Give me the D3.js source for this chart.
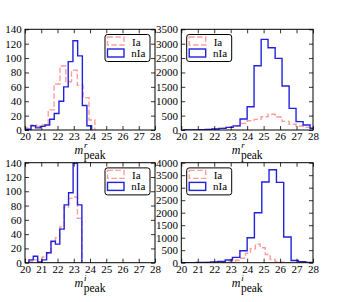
<!DOCTYPE html>
<html><head><meta charset="utf-8">
<script src="https://cdn.jsdelivr.net/npm/d3@7"></script>
<style>body{margin:0;background:#fff}svg{display:block}text{font-family:"Liberation Serif","DejaVu Serif",serif}</style>
</head><body>
<svg id="c" width="348" height="302"></svg>
<script>
// ---------------- data ----------------
const xTicks = [20, 21, 22, 23, 24, 25, 26, 27, 28];
const yTicksTL = [0, 20, 40, 60, 80, 100, 120, 140];
const yTicksTR = [0, 500, 1000, 1500, 2000, 2500, 3000, 3500];
const yTicksBL = [0, 20, 40, 60, 80, 100, 120, 140];
const yTicksBR = [0, 500, 1000, 1500, 2000, 2500, 3000, 3500, 4000];
const seriesNames = ["Ia", "nIa"];

// top-left (m^r_peak)
const tlIaEdges = [20.00, 20.36, 20.72, 21.07, 21.43, 21.79, 22.15, 22.51, 22.86, 23.22, 23.58, 23.94, 24.30];
const tlIaValues = [3, 7, 5, 7, 28, 64, 89, 67, 83, 62, 45, 14];
const tlNIaEdges = [20.08, 20.37, 20.65, 20.94, 21.23, 21.52, 21.80, 22.09, 22.38, 22.66, 22.95, 23.24, 23.53, 23.81, 24.10];
const tlNIaValues = [1, 6, 3, 5, 7, 15, 23, 40, 60, 95, 124, 103, 34, 6];

// top-right (m^r_peak)
const trEdges = [20.17, 20.60, 21.02, 21.45, 21.87, 22.30, 22.72, 23.15, 23.57, 24.00, 24.42, 24.85, 25.27, 25.70, 26.12, 26.55, 26.97, 27.40, 27.82, 28.25];
const trIaValues = [3, 5, 10, 20, 40, 65, 100, 140, 230, 320, 370, 460, 545, 450, 300, 200, 140, 90, 50];
const trNIaValues = [5, 5, 10, 20, 35, 58, 90, 145, 382, 810, 2235, 3150, 2860, 2490, 1530, 750, 290, 175, 60];

// bottom-left (m^i_peak)
const blEdges = [20.24, 20.51, 20.78, 21.05, 21.33, 21.60, 21.87, 22.14, 22.41, 22.68, 22.96, 23.23, 23.50];
const blIaValues = [2, 4, 5, 8, 13, 29, 35, 50, 78, 90, 92, 62];
const blNIaValues = [4, 9, 1, 4, 14, 30, 26, 47, 81, 98, 139, 81];

// bottom-right (m^i_peak)
const brIaEdges = [20.0, 20.3, 20.6, 20.9, 21.2, 21.5, 21.8, 22.1, 22.4, 22.7, 23.0, 23.3, 23.6, 23.9, 24.2, 24.5, 24.8, 25.1, 25.4, 25.7, 26.0, 26.3, 26.6];
const brIaValues = [2, 2, 3, 5, 5, 8, 10, 15, 20, 30, 50, 100, 180, 380, 560, 740, 600, 330, 130, 50, 20, 5];
const brNIaEdges = [20.00, 20.44, 20.89, 21.33, 21.78, 22.22, 22.67, 23.11, 23.56, 24.00, 24.44, 24.89, 25.33, 25.78, 26.22, 26.67, 27.11, 27.56, 28.00];
const brNIaValues = [3, 5, 8, 15, 30, 55, 107, 213, 480, 1000, 2000, 3226, 3720, 3213, 1030, 90, 40, 10];

// ---------------- layout ----------------
const FONT = '"Liberation Serif","DejaVu Serif",serif';
const PINK = "#ff9c9c";
const BLUE = "#2222dd";

const panels = [
  {left: 25, right: 155, top: 29.3, bottom: 130, ymax: 140, yTicks: yTicksTL,
   ia: [tlIaEdges, tlIaValues], nia: [tlNIaEdges, tlNIaValues], legendRight: true, sup: "r"},
  {left: 181.3, right: 313, top: 29.3, bottom: 130, ymax: 3500, yTicks: yTicksTR,
   ia: [trEdges, trIaValues], nia: [trEdges, trNIaValues], legendRight: false, sup: "r"},
  {left: 25, right: 155, top: 162.7, bottom: 262.7, ymax: 140, yTicks: yTicksBL,
   ia: [blEdges, blIaValues], nia: [blEdges, blNIaValues], legendRight: true, sup: "i"},
  {left: 181.3, right: 313, top: 162.7, bottom: 262.7, ymax: 4000, yTicks: yTicksBR,
   ia: [brIaEdges, brIaValues], nia: [brNIaEdges, brNIaValues], legendRight: false, sup: "i"}
];

const svg = d3.select("#c");
const defs = svg.append("defs");

function stepPoints(edges, vals) {
  const a = [[edges[0], 0]];
  vals.forEach((v, i) => { a.push([edges[i], v]); a.push([edges[i + 1], v]); });
  a.push([edges[vals.length], 0]);
  return a;
}

panels.forEach((p, k) => {
  const x = d3.scaleLinear().domain([20, 28]).range([p.left, p.right]);
  const y = d3.scaleLinear().domain([0, p.ymax]).range([p.bottom, p.top]);
  const g = svg.append("g");
  const clipId = "clip" + k;
  defs.append("clipPath").attr("id", clipId).append("rect")
    .attr("x", p.left).attr("y", p.top)
    .attr("width", p.right - p.left).attr("height", p.bottom - p.top);

  const line = d3.line().x(d => x(d[0])).y(d => y(d[1]));
  const plot = g.append("g").attr("clip-path", `url(#${clipId})`);
  plot.append("path").attr("d", line(stepPoints(p.ia[0], p.ia[1])))
    .attr("fill", "none").attr("stroke", PINK).attr("stroke-width", 1.4)
    .attr("stroke-dasharray", "5.5,2.4").attr("stroke-linejoin", "miter");
  plot.append("path").attr("d", line(stepPoints(p.nia[0], p.nia[1])))
    .attr("fill", "none").attr("stroke", BLUE).attr("stroke-width", 1.4)
    .attr("stroke-linejoin", "miter");

  // axes (inward ticks on all sides)
  const styleAxis = sel => {
    sel.select(".domain").remove();
    sel.selectAll("line").attr("stroke", "#000").attr("stroke-width", 0.8);
    sel.selectAll("text").style("font-family", FONT).attr("font-size", 11).attr("fill", "#000");
    sel.attr("font-family", null).attr("font-size", null);
  };
  g.append("g").attr("transform", `translate(0,${p.bottom})`)
    .call(d3.axisBottom(x).tickValues(xTicks).tickSize(-4).tickPadding(2.4).tickFormat(d3.format("d")))
    .call(styleAxis);
  g.append("g").attr("transform", `translate(0,${p.top})`)
    .call(d3.axisTop(x).tickValues(xTicks).tickSize(-4).tickFormat(""))
    .call(styleAxis);
  g.append("g").attr("transform", `translate(${p.left},0)`)
    .call(d3.axisLeft(y).tickValues(p.yTicks).tickSize(-4).tickPadding(3.3).tickFormat(d3.format("d")))
    .call(styleAxis);
  g.append("g").attr("transform", `translate(${p.right},0)`)
    .call(d3.axisRight(y).tickValues(p.yTicks).tickSize(-4).tickFormat(""))
    .call(styleAxis);

  // frame
  g.append("rect").attr("x", p.left).attr("y", p.top)
    .attr("width", p.right - p.left).attr("height", p.bottom - p.top)
    .attr("fill", "none").attr("stroke", "#000").attr("stroke-width", 1);

  // legend
  const lw = 45, lh = 27;
  const lx = p.legendRight ? p.right - 5 - lw : p.left + 5.4;
  const ly = p.top + 5.2;
  const lg = g.append("g").attr("transform", `translate(${lx},${ly})`);
  lg.append("rect").attr("width", lw).attr("height", lh).attr("rx", 2.5)
    .attr("fill", "#fff").attr("stroke", "#000").attr("stroke-width", 1);
  lg.append("rect").attr("x", 2.5).attr("y", 2.5).attr("width", 16.5).attr("height", 8)
    .attr("fill", "none").attr("stroke", PINK).attr("stroke-width", 1.4).attr("stroke-dasharray", "5.5,2.4");
  lg.append("rect").attr("x", 2.5).attr("y", 14.5).attr("width", 16.5).attr("height", 8)
    .attr("fill", "none").attr("stroke", BLUE).attr("stroke-width", 1.4);
  lg.append("text").attr("x", 27).attr("y", 11.5).text(seriesNames[0])
    .style("font-family", FONT).attr("font-size", 11);
  lg.append("text").attr("x", 26.3).attr("y", 22.4).text(seriesNames[1])
    .style("font-family", FONT).attr("font-size", 11);

  // x label: m^{sup}_{peak}
  const cx = (p.left + p.right) / 2;
  const base = p.bottom + 24;
  const lab = g.append("g");
  const tm = lab.append("text").attr("y", base).text("m")
    .style("font-family", FONT).attr("font-size", 12).attr("font-style", "italic");
  const ts = lab.append("text").attr("y", base - 6).text(p.sup)
    .style("font-family", FONT).attr("font-size", 9).attr("font-style", "italic");
  const tp = lab.append("text").attr("y", base + 5.3).text("peak")
    .style("font-family", FONT).attr("font-size", 11.5);
  const mw = tm.node().getComputedTextLength();
  const pw = tp.node().getComputedTextLength();
  const x0 = cx - (mw + pw + 0.5) / 2;
  tm.attr("x", x0);
  ts.attr("x", x0 + mw + 0.8);
  tp.attr("x", x0 + mw + 0.5);
});
</script>
</body></html>
